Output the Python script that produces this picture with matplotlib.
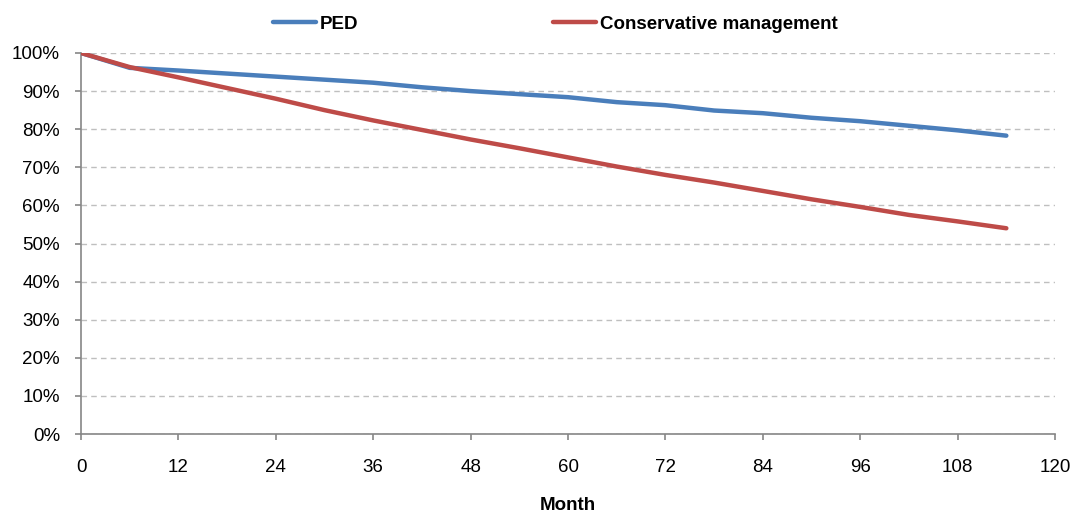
import matplotlib
matplotlib.use("Agg")
import matplotlib.pyplot as plt
from matplotlib.ticker import FuncFormatter, MultipleLocator

plt.rcParams['font.family'] = ['Liberation Sans', 'DejaVu Sans']

months = [0, 6, 12, 18, 24, 30, 36, 42, 48, 54, 60, 66, 72, 78, 84, 90, 96, 102, 108, 114]
ped = [100, 96.1, 95.4, 94.6, 93.8, 93.0, 92.2, 91.0, 90.0, 89.2, 88.4, 87.1,
       86.3, 84.9, 84.2, 83.0, 82.1, 80.9, 79.7, 78.3]
conservative = [100, 96.3, 93.6, 90.8, 88.0, 85.0, 82.3, 79.8, 77.3, 75.0, 72.6, 70.2,
                68.0, 66.0, 63.8, 61.6, 59.6, 57.5, 55.8, 54.0]

blue = "#4A7EBB"
red = "#BE4B48"
axis_grey = "#868686"
fs = 13.5

fig = plt.figure(figsize=(10.79, 5.14), dpi=100)
ax = fig.add_axes([0.0751, 0.1556, 0.9027, 0.7413])

ax.plot(months, ped, color=blue, lw=3.2, solid_capstyle="round", label="PED", zorder=3)
ax.plot(months, conservative, color=red, lw=3.2, solid_capstyle="round",
        label="Conservative management", zorder=3)

ax.set_xlim(0, 120)
ax.set_ylim(0, 100)
ax.xaxis.set_major_locator(MultipleLocator(12))
ax.yaxis.set_major_locator(MultipleLocator(10))
ax.yaxis.set_major_formatter(FuncFormatter(lambda v, p: f"{v:.0f}%"))

ax.grid(axis="y", color="#BFBFBF", linestyle=(0, (4, 3)), linewidth=1.0)
ax.set_axisbelow(True)

for side in ("top", "right"):
    ax.spines[side].set_visible(False)
for side in ("left", "bottom"):
    ax.spines[side].set_color(axis_grey)
    ax.spines[side].set_linewidth(1.2)
ax.tick_params(axis="both", colors=axis_grey, length=4.5, width=1.2,
               labelcolor="black", labelsize=fs)
ax.tick_params(axis="x", pad=13.5)
ax.tick_params(axis="y", pad=10.6)

ax.set_xlabel("Month", fontsize=fs, fontweight="bold", labelpad=15)

leg = fig.legend(loc="center left", bbox_to_anchor=(0.237, 0.953), ncol=2, frameon=False,
                 prop={"weight": "bold", "size": fs}, handlelength=2.3,
                 handletextpad=0.2, columnspacing=10.4)

fig.savefig("out.png", dpi=100)
